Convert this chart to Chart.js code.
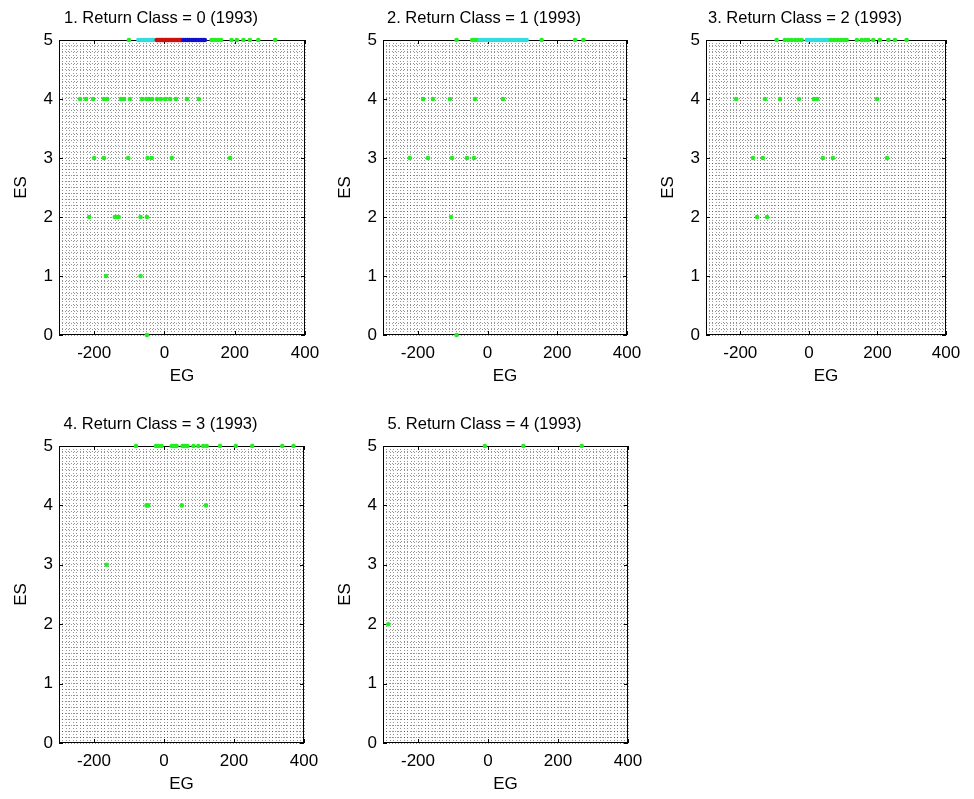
<!DOCTYPE html>
<html>
<head>
<meta charset="utf-8">
<title>ES vs EG by return class (1993)</title>
<script src="https://cdn.jsdelivr.net/npm/chart.js@4.4.1/dist/chart.umd.min.js"></script>
<style>
  html, body { margin: 0; padding: 0; background: #fff; overflow: hidden; }
  #wrap { position: relative; width: 974px; height: 799px; }
  #wrap canvas { position: absolute; }
</style>
</head>
<body>
<div id="wrap"></div>
<script>
// shared axes
const egRange = [-300, 400];
const esRange = [0, 5];
const egTickLabels = [-200, 0, 200, 400];
const esTickLabels = [0, 1, 2, 3, 4, 5];

const panelTitles = [
  "1. Return Class = 0 (1993)",
  "2. Return Class = 1 (1993)",
  "3. Return Class = 2 (1993)",
  "4. Return Class = 3 (1993)",
  "5. Return Class = 4 (1993)"
];

// return class 0
const c0GreenEG = [
  -101, 134, 143, 152, 161, 191, 206, 225, 243, 267, 315,
  -240, -223, -203, -172, -163, -124, -115, -98, -64, -52, -44, -35, -21, -10, 2, 16, 33, 64, 98,
  -200, -172, -103, -48, -36, 21, 187,
  -214, -141, -136, -130, -68, -50,
  -166, -68,
  -50
];
const c0GreenES = [
  5, 5, 5, 5, 5, 5, 5, 5, 5, 5, 5,
  4, 4, 4, 4, 4, 4, 4, 4, 4, 4, 4, 4, 4, 4, 4, 4, 4, 4, 4,
  3, 3, 3, 3, 3, 3, 3,
  2, 2, 2, 2, 2, 2,
  1, 1,
  0
];
const c0CyanEG = [-74, -66, -60, -54, -50, -45, -41, -36, -32];
const c0CyanES = [5, 5, 5, 5, 5, 5, 5, 5, 5];
const c0RedEG = [-22, -19, -15, -12, -8, -5, -1, 3, 6, 10, 13, 17, 21, 24, 28, 31, 35, 39, 42, 46, 49];
const c0RedES = [5, 5, 5, 5, 5, 5, 5, 5, 5, 5, 5, 5, 5, 5, 5, 5, 5, 5, 5, 5, 5];
const c0BlueEG = [54, 60, 66, 71, 78, 84, 90, 97, 104, 110, 115];
const c0BlueES = [5, 5, 5, 5, 5, 5, 5, 5, 5, 5, 5];

// return class 1
const c1GreenEG = [
  -89, -44, -36, -29, 155, 251, 275,
  -185, -157, -108, -36, 44,
  -223, -171, -102, -59, -39,
  -105,
  -89
];
const c1GreenES = [
  5, 5, 5, 5, 5, 5, 5,
  4, 4, 4, 4, 4,
  3, 3, 3, 3, 3,
  2,
  0
];
const c1CyanEG = [-22, -16, -11, -5, 1, 6, 12, 17, 23, 28, 34, 40, 45, 51, 57, 62, 68, 74, 80, 85, 91, 97, 102, 108, 112];
const c1CyanES = [5, 5, 5, 5, 5, 5, 5, 5, 5, 5, 5, 5, 5, 5, 5, 5, 5, 5, 5, 5, 5, 5, 5, 5, 5];

// return class 2
const c2GreenEG = [
  -94, -70, -60, -50, -40, -31, -21, 57, 66, 75, 84, 93, 102, 110, 140, 154, 164, 173, 188, 207, 232, 251, 285,
  -212, -128, -84, -29, 15, 24, 199,
  -163, -134, 41, 70, 228,
  -151, -122
];
const c2GreenES = [
  5, 5, 5, 5, 5, 5, 5, 5, 5, 5, 5, 5, 5, 5, 5, 5, 5, 5, 5, 5, 5, 5, 5,
  4, 4, 4, 4, 4, 4, 4,
  3, 3, 3, 3, 3,
  2, 2
];
const c2CyanEG = [-6, 0, 6, 12, 18, 24, 30, 36, 42, 48, 52];
const c2CyanES = [5, 5, 5, 5, 5, 5, 5, 5, 5, 5, 5];

// return class 3
const c3GreenEG = [
  -80, -23, -16, -7, 22, 26, 29, 33, 36, 53, 57, 60, 64, 67, 84, 98, 112, 122, 160, 205, 252, 338, 370,
  -50, -45, 51, 120,
  -164
];
const c3GreenES = [
  5, 5, 5, 5, 5, 5, 5, 5, 5, 5, 5, 5, 5, 5, 5, 5, 5, 5, 5, 5, 5, 5, 5,
  4, 4, 4, 4,
  3
];

// return class 4
const c4GreenEG = [-9, 101, 268, -285];
const c4GreenES = [5, 5, 5, 2];

const GREEN = "#22ee22", CYAN = "#33dddd", RED = "#cc1111", BLUE = "#1111cc";
const FAMILY = "'Liberation Sans', Arial, sans-serif";
const TICK_FONT = { family: FAMILY, size: 17 };

// plot-box placement (left, top, width, height) of each panel on the page
const frames = [
  [59, 40, 246, 295],
  [383, 40, 244, 295],
  [706, 40, 240, 295],
  [59, 446, 245, 297],
  [383, 446, 245, 297]
];
const Y_AXIS_W = 42, LEFT_PAD = 17, TITLE_H = 40, X_AXIS_H = 56, RIGHT_PAD = 25;

const pts = (eg, es) => eg.map((x, i) => ({ x, y: es[i] }));

// closed box with inward ticks, drawn under the markers
const boxFrame = {
  id: "boxFrame",
  beforeDatasetsDraw(chart) {
    const { ctx, chartArea: a, scales: { x, y } } = chart;
    ctx.save();
    ctx.strokeStyle = "#000";
    ctx.lineWidth = 1;
    ctx.strokeRect(a.left + 0.5, a.top + 0.5, a.right - a.left - 1, a.bottom - a.top - 1);
    ctx.beginPath();
    egTickLabels.forEach(v => {
      const px = Math.round(x.getPixelForValue(v)) + 0.5;
      ctx.moveTo(px, a.bottom); ctx.lineTo(px, a.bottom - 4);
      ctx.moveTo(px, a.top); ctx.lineTo(px, a.top + 4);
    });
    esTickLabels.forEach(v => {
      const py = Math.round(y.getPixelForValue(v)) + 0.5;
      ctx.moveTo(a.left, py); ctx.lineTo(a.left + 4, py);
      ctx.moveTo(a.right, py); ctx.lineTo(a.right - 4, py);
    });
    ctx.stroke();
    ctx.restore();
  }
};

function makePanel(idx, series) {
  const [L, T, W, H] = frames[idx];
  const cv = document.createElement("canvas");
  cv.width = LEFT_PAD + Y_AXIS_W + W + RIGHT_PAD;
  cv.height = TITLE_H + H + X_AXIS_H;
  cv.style.left = (L - Y_AXIS_W - LEFT_PAD) + "px";
  cv.style.top = (T - TITLE_H) + "px";
  document.getElementById("wrap").appendChild(cv);

  const gridColor = "rgba(0,0,0,0.42)";

  new Chart(cv, {
    type: "scatter",
    data: {
      datasets: series.map(s => ({
        data: pts(s.eg, s.es),
        backgroundColor: s.color,
        borderColor: s.color,
        borderWidth: 0,
        pointRadius: 2.3,
        pointHoverRadius: 2.3,
        clip: false,
        order: s.order
      }))
    },
    options: {
      responsive: false,
      animation: false,
      events: [],
      layout: { padding: { left: LEFT_PAD, top: 0, right: RIGHT_PAD, bottom: 0 } },
      plugins: {
        legend: { display: false },
        tooltip: { enabled: false },
        title: {
          display: true,
          text: panelTitles[idx],
          color: "#000",
          font: { family: FAMILY, size: 16.5, weight: "normal", lineHeight: "20px" },
          padding: { top: 8, bottom: 12 }
        }
      },
      scales: {
        x: {
          type: "linear",
          min: egRange[0],
          max: egRange[1],
          afterFit(s) { s.height = X_AXIS_H; },
          ticks: {
            stepSize: 10,
            autoSkip: false,
            maxRotation: 0,
            minRotation: 0,
            padding: 8,
            color: "#000",
            font: TICK_FONT,
            callback: v => egTickLabels.includes(v) ? String(v) : ""
          },
          grid: { color: gridColor, lineWidth: 1, drawTicks: false },
          border: { display: false, dash: [1, 2] },
          title: { display: true, text: "EG", color: "#000", font: TICK_FONT, padding: { top: 0, bottom: 4 } }
        },
        y: {
          type: "linear",
          min: esRange[0],
          max: esRange[1],
          afterFit(s) { s.width = Y_AXIS_W; },
          ticks: {
            stepSize: 0.1,
            autoSkip: false,
            padding: 6,
            color: "#000",
            font: TICK_FONT,
            callback: v => esTickLabels.includes(Math.round(v * 10) / 10) ? String(Math.round(v)) : ""
          },
          grid: { color: gridColor, lineWidth: 1, drawTicks: false },
          border: { display: false, dash: [1, 2] },
          // small line height keeps the rotated label just inside the narrow axis box
          title: { display: true, text: "ES", color: "#000", font: { family: FAMILY, size: 17, lineHeight: "8px" }, padding: { top: 0, bottom: 0 } }
        }
      }
    },
    plugins: [boxFrame]
  });
}

makePanel(0, [
  { eg: c0GreenEG, es: c0GreenES, color: GREEN, order: 4 },
  { eg: c0CyanEG, es: c0CyanES, color: CYAN, order: 3 },
  { eg: c0RedEG, es: c0RedES, color: RED, order: 2 },
  { eg: c0BlueEG, es: c0BlueES, color: BLUE, order: 1 }
]);
makePanel(1, [
  { eg: c1GreenEG, es: c1GreenES, color: GREEN, order: 2 },
  { eg: c1CyanEG, es: c1CyanES, color: CYAN, order: 1 }
]);
makePanel(2, [
  { eg: c2GreenEG, es: c2GreenES, color: GREEN, order: 2 },
  { eg: c2CyanEG, es: c2CyanES, color: CYAN, order: 1 }
]);
makePanel(3, [
  { eg: c3GreenEG, es: c3GreenES, color: GREEN, order: 1 }
]);
makePanel(4, [
  { eg: c4GreenEG, es: c4GreenES, color: GREEN, order: 1 }
]);
</script>
</body>
</html>
